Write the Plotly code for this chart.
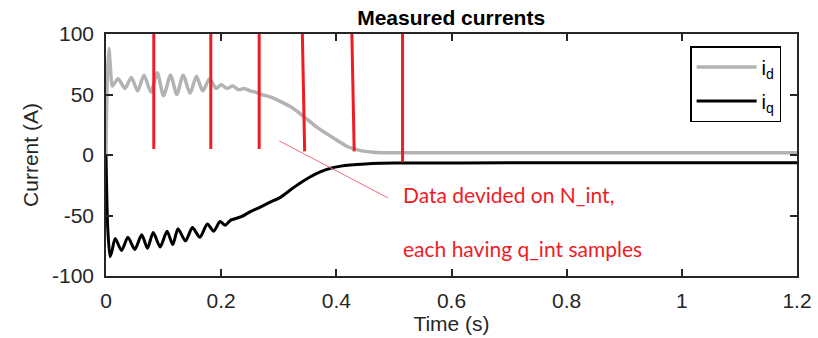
import plotly.graph_objects as go

# ---- data ----
t_d = [0, 0.002, 0.005, 0.008, 0.011, 0.021, 0.033, 0.044, 0.055, 0.066, 0.078, 0.089,
       0.100, 0.112, 0.123, 0.134, 0.146, 0.157, 0.168, 0.180, 0.191, 0.200, 0.210,
       0.220, 0.230, 0.240, 0.250, 0.260, 0.270, 0.285, 0.300, 0.320, 0.343, 0.366,
       0.395, 0.419, 0.442, 0.460, 0.480, 0.550, 0.700, 0.900, 1.100, 1.200]
i_d = [0, 60, 88, 70, 57, 63, 55, 64, 53, 66, 52, 68, 49, 66, 50, 66, 51, 65, 53, 63,
       55, 58, 55, 57, 54, 55, 53, 52, 50, 48, 45, 40, 32, 23, 14, 7, 3.6, 2.5, 1.9,
       1.8, 1.8, 1.8, 1.8, 1.8]

t_q = [0, 0.003, 0.007, 0.010, 0.016, 0.027, 0.038, 0.050, 0.062, 0.072, 0.082, 0.094,
       0.106, 0.116, 0.125, 0.138, 0.150, 0.163, 0.176, 0.187, 0.198, 0.207, 0.216,
       0.235, 0.250, 0.268, 0.285, 0.303, 0.320, 0.338, 0.355, 0.372, 0.390, 0.408,
       0.424, 0.450, 0.477, 0.520, 0.700, 0.900, 1.100, 1.200]
i_q = [0, -60, -84, -80, -69, -79, -68, -78, -66, -77, -64, -76, -63, -74, -61, -71,
       -60, -68, -57, -63, -55, -58, -54, -51, -47, -43, -39, -35, -29, -23, -18, -14,
       -11, -9.2, -8.3, -7.4, -6.9, -6.6, -6.5, -6.5, -6.5, -6.5]

split_x_top = [0.083, 0.182, 0.266, 0.341, 0.427, 0.515]
split_x_bot = [0.083, 0.182, 0.266, 0.345, 0.431, 0.515]
split_y_top = [100, 100, 100, 100, 100, 100]
split_y_bot = [5, 5, 5, 3, 3, -6]

pointer_x = [0.301, 0.49]
pointer_y = [11.6, -35.5]
note_lines = ["Data devided on N_int,", "each having q_int samples"]
note_x = 0.513
note_y = [-33, -77.5]

x_ticks = [0, 0.2, 0.4, 0.6, 0.8, 1, 1.2]
y_ticks = [-100, -50, 0, 50, 100]

RED = "#ee1c25"
AX = "#262626"
FONT = "Liberation Sans"

fig = go.Figure()
fig.add_trace(go.Scatter(x=t_d, y=i_d, mode="lines", name="i<sub>d</sub>",
                         line=dict(color="#b3b3b3", width=3.5, shape="spline", smoothing=0.7),
                         legendgroup="d"))
fig.add_trace(go.Scatter(x=t_q, y=i_q, mode="lines", name="i<sub>q</sub>",
                         line=dict(color="#000000", width=3, shape="spline", smoothing=0.7),
                         legendgroup="q"))

shapes = []
for xt, xb, yt, yb in zip(split_x_top, split_x_bot, split_y_top, split_y_bot):
    shapes.append(dict(type="line", xref="x", yref="y", x0=xt, y0=yt, x1=xb, y1=yb,
                       line=dict(color=RED, width=3), layer="above"))
shapes.append(dict(type="line", xref="x", yref="y", x0=pointer_x[0], y0=pointer_y[0],
                   x1=pointer_x[1], y1=pointer_y[1],
                   line=dict(color="#f26d73", width=1), layer="above"))

annotations = []
for txt, yy in zip(note_lines, note_y):
    annotations.append(dict(x=note_x, y=yy, xref="x", yref="y", text=txt, showarrow=False,
                            xanchor="left", yanchor="middle",
                            font=dict(family="Lato", size=21, color=RED)))

axis_common = dict(showline=True, linecolor=AX, linewidth=1.5, mirror="ticks",
                   ticks="inside", ticklen=7, tickwidth=1.5, tickcolor=AX,
                   showgrid=False, zeroline=False, automargin=False,
                   tickfont=dict(family=FONT, size=21, color=AX))

fig.update_layout(
    width=818, height=338,
    margin=dict(l=106, r=21, t=34, b=62),
    paper_bgcolor="white", plot_bgcolor="white",
    title=dict(text="<b>Measured currents</b>", x=0.5515, xanchor="center",
               y=0.947, yanchor="middle",
               font=dict(family=FONT, size=21, color="black")),
    xaxis=dict(range=[0, 1.2], tickvals=x_ticks, ticktext=[str(v) for v in x_ticks],
               title=dict(text="Time (s)", font=dict(family=FONT, size=21, color=AX), standoff=4),
               ticklabelstandoff=5, **axis_common),
    yaxis=dict(range=[-100, 100], tickvals=y_ticks, ticktext=[str(v) for v in y_ticks],
               title=dict(text="Current (A)", font=dict(family=FONT, size=21, color=AX), standoff=8),
               ticklabelstandoff=6, **axis_common),
    legend=dict(x=0.977, y=0.950, xanchor="right", yanchor="top",
                bordercolor="black", borderwidth=1.5, bgcolor="white",
                font=dict(family=FONT, size=20, color="black"),
                tracegroupgap=5, itemwidth=60),
    shapes=shapes, annotations=annotations,
)

fig.write_html("out.html")
